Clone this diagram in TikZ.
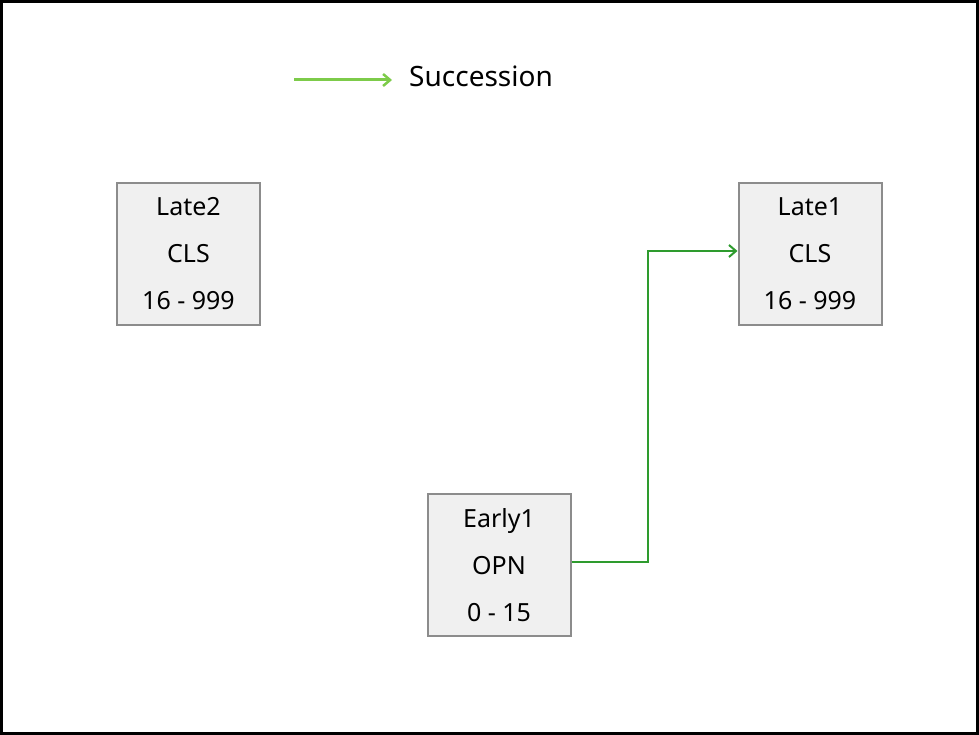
\documentclass[tikz,border=0pt]{standalone}
\usepackage{fontspec}
\setmainfont{Noto Sans}
\usetikzlibrary{arrows.meta}
\definecolor{boxfill}{HTML}{F0F0F0}
\definecolor{boxline}{HTML}{8C8C8C}
\definecolor{linkgreen}{HTML}{2E9B2E}
\definecolor{legendgreen}{HTML}{7DCB4A}
\tikzset{
  task/.style={draw=boxline, line width=2pt, fill=boxfill, minimum width=143pt,
    minimum height=142pt, inner sep=0pt, align=center, font=\fontsize{25}{47}\selectfont},
  succ/.style={draw=linkgreen, line width=2pt, -{Straight Barb[length=7pt,width=12pt,line width=2pt]}},
  legendarrow/.style={draw=legendgreen, line width=3pt, -{Straight Barb[length=7pt,width=12pt,line width=2.5pt]}}
}
\begin{document}
\begin{tikzpicture}[x=1pt,y=-1pt]
  \useasboundingbox (0,0) rectangle (979,735);
  \draw[line width=3pt] (1.5,1.5) rectangle (977.5,733.5);

  % legend
  \coordinate (legA) at (294,80);
  \coordinate (legB) at (392,80);
  \draw[legendarrow] (legA) -- (legB);
  \node[anchor=west, font=\fontsize{28}{32}\selectfont, inner sep=0pt] (legtext) at (409,76) {Succession};

  % tasks
  \node[task] (late2) at (188.5,254) {Late2\\CLS\\16 - 999};
  \node[task] (late1) at (810,254) {Late1\\CLS\\16 - 999};
  \node[task] (early1) at (499,565) {Early1\\OPN\\0 - 15};

  % succession link
  \draw[succ] (early1.east |- 0,562) -| (648,251) -- (late1.west |- 0,251);
\end{tikzpicture}
\end{document}
